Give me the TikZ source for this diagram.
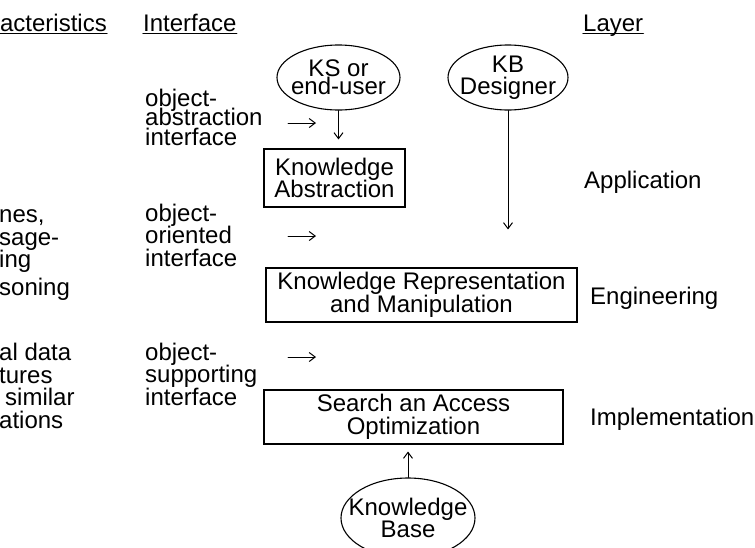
\documentclass[tikz,border=0pt]{standalone}
\usepackage{fontspec}
\setmainfont{Liberation Sans}
\usetikzlibrary{arrows.meta,shapes.geometric}
\newcommand\tightlines{\lineskiplimit=-20pt\relax}

\begin{document}
\begin{tikzpicture}[x=1pt,y=-1pt,line cap=round,
    lbl/.style={font=\fontsize{24}{22.5}\selectfont\tightlines,inner sep=0pt,align=left},
    blk/.style={draw,line width=1.1pt,font=\fontsize{24}{22.5}\selectfont,align=center,inner sep=0pt},
    ell/.style={ellipse,draw,line width=1.1pt,font=\fontsize{24}{22.5}\selectfont,align=center,
                inner xsep=-30pt,inner ysep=-15pt},
    flow/.style={-{Straight Barb[length=6pt,width=9pt]},line width=1pt}]
        \useasboundingbox (0,0) rectangle (755,547);
        \clip (0,0) rectangle (755,547);
        \node[lbl,anchor=base east] (hChar)  at (107,31) {acteristics};
        \node[lbl,anchor=base west] (hIntf)  at (143,31) {Interface};
        \node[lbl,anchor=base west] (hLayer) at (583,31) {Layer};
        \foreach \h in {hChar,hIntf,hLayer}
          \draw[line width=1.2pt] ([yshift=-2.5pt]\h.base west) -- ([yshift=-2.5pt]\h.base east);
        \node[lbl,anchor=base west] (chReason) at (-1,295) {nes,\\sage-\\ing\\[5pt]soning};
        \node[lbl,anchor=base west] (chData)   at (-1,428) {al data\\tures\\\hspace*{6pt}similar\\ations};
        \node[lbl,anchor=base west,font=\fontsize{24}{19.5}\selectfont\tightlines] (ifAbs) at (145,145) {object-\\abstraction\\interface};
        \node[lbl,anchor=base west] (ifOri) at (145,266) {object-\\oriented\\interface};
        \node[lbl,anchor=base west] (ifSup) at (145,405) {object-\\supporting\\interface};
        \foreach \n/\y in {arAbs/123, arOri/236, arSup/357}{
          \coordinate (\n) at (288,\y);
          \draw[flow] (\n) -- ++(28,0);
        }
        \node[ell,minimum width=123pt,minimum height=65pt,font=\fontsize{24}{18}\selectfont\tightlines] (ksUser) at (338.5,77.5) {KS or\\end-user};
        \node[ell,minimum width=120pt,minimum height=65pt] (kbDesign) at (508,77.5) {KB\\Designer};
        \node[blk,minimum width=141pt,minimum height=58pt] (kAbs) at (334.5,178) {Knowledge\\Abstraction};
        \node[blk,minimum width=311pt,minimum height=54pt] (kRep) at (421.5,295) {Knowledge Representation\\and Manipulation};
        \node[blk,minimum width=299pt,minimum height=54pt] (kSearch) at (413.5,417) {Search an Access\\Optimization};
        \node[ell,minimum width=134pt,minimum height=80pt] (kBase) at (408,518) {Knowledge\\Base};
        \draw[flow,shorten >=9pt]  (ksUser.south) -- (ksUser.south |- kAbs.north);
        \draw[flow,shorten >=38pt] (kbDesign.south) -- (kbDesign.south |- kRep.north);
        \draw[flow,shorten >=7pt]  (kBase.north) -- (kBase.north |- kSearch.south);
        \node[lbl,anchor=base west] (lyApp) at (584,188) {Application};
        \node[lbl,anchor=base west] (lyEng) at (590,304) {Engineering};
        \node[lbl,anchor=base west] (lyImp) at (590,425) {Implementation};
      \end{tikzpicture}
\end{document}
